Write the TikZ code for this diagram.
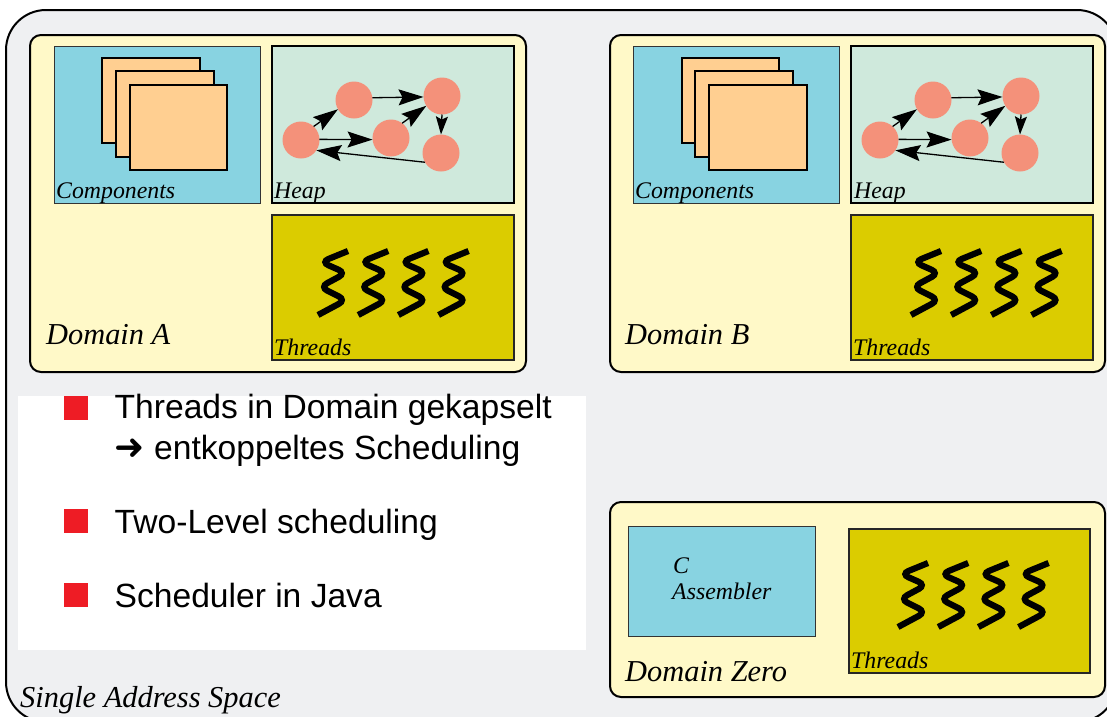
\documentclass[tikz,border=0pt]{standalone}
\usepackage{fontspec}
\setmainfont{Liberation Serif}
\newfontfamily\listfont{Liberation Sans}
\newfontfamily\arrowfont{DejaVu Sans}
\usetikzlibrary{arrows.meta}
\definecolor{spacegray}{HTML}{EFF0F2}
\definecolor{domainyellow}{HTML}{FFF9C8}
\definecolor{compblue}{HTML}{88D3E1}
\definecolor{heapgreen}{HTML}{CFE9DC}
\definecolor{threadgold}{HTML}{DBCC00}
\definecolor{pageorange}{HTML}{FFCF91}
\definecolor{objsalmon}{HTML}{F4917A}
\definecolor{bulletred}{HTML}{EE1C25}
\newcommand{\threadline}[2]{\draw[thread] (#1,#2) -- ++(28,-15) -- ++(-26,-13) -- ++(26,-14) -- ++(-25,-11) -- ++(27,-11);}
\begin{document}
\begin{tikzpicture}[x=1pt, y=-1pt,
  wh/.style 2 args = {minimum width=#1pt, minimum height=#2pt, anchor=north west, inner sep=0pt, outer sep=0pt},
  spacebox/.style = {draw, line width=2pt, fill=spacegray, rounded corners=40pt},
  dombox/.style = {draw, line width=2pt, fill=domainyellow, rounded corners=11pt},
  comp/.style = {draw=black!80, line width=1pt, fill=compblue},
  heap/.style = {draw, line width=2.2pt, fill=heapgreen},
  threads/.style = {draw=black!85, line width=1.4pt, fill=threadgold},
  page/.style = {draw, line width=1.9pt, fill=pageorange},
  obj/.style = {circle, fill=objsalmon, minimum size=37pt, inner sep=0pt, outer sep=0pt},
  ref/.style = {-{Stealth[length=25pt, width=16pt, inset=4pt]}, line width=1.3pt},
  refshort/.style = {-{Stealth[length=18pt, width=12pt, inset=3pt]}, line width=1.3pt},
  thread/.style = {line width=6.2pt, rounded corners=8pt},
  small/.style = {anchor=base west, inner sep=0pt, font=\itshape\fontsize{23.8}{28}\selectfont},
  big/.style = {anchor=base west, inner sep=0pt, font=\itshape\fontsize{30.4}{36}\selectfont},
  item/.style = {anchor=base west, inner sep=0pt, font=\listfont\fontsize{33.6}{40}\selectfont},
  bullet/.style = {wh={24}{23.5}, fill=bulletred}]
\useasboundingbox (0,0) rectangle (1107,716);
\clip (0,0) rectangle (1107,716);
\node[spacebox, wh={1111}{712}] (as) at (6,10) {};
\node[big] (aslabel) at (20,707) {Single Address Space};

% domain A
\node[dombox, wh={496}{337}] (doma) at (30,35) {};
\node[big] (domalabel) at (46,344) {Domain A};
\node[comp, wh={206}{157}] (compa) at (54,46) {};
\node[page, wh={98}{85}] (pa1) at (102,58) {};
\node[page, wh={98}{86}] (pa2) at (116,71) {};
\node[page, wh={97}{85}] (pa3) at (130,85) {};
\node[small] (compalabel) at (56,198) {Components};
\node[heap, wh={242}{157}] (heapa) at (272,46) {};
\node[small] (heapalabel) at (274,198) {Heap};
\node[obj] (a1) at (301,140) {};
\node[obj] (a2) at (354,100) {};
\node[obj] (a3) at (391,138) {};
\node[obj] (a4) at (442,96) {};
\node[obj] (a5) at (441,153) {};
\draw[ref] (a1.47) -- (a2.210);
\draw[ref] (a2.7) -- (a4.183);
\draw[ref] (a1.2) -- (a3.185);
\draw[ref] (a3.53) -- (a4.212);
\draw[refshort] (a4.270) -- (a5.90);
\draw[ref] (a5.210) -- (a1.326);
\node[threads, wh={242}{145}] (tha) at (272,215) {};
\node[small] (thalabel) at (274,355) {Threads};
\foreach \tx in {318,358.2,398.4,438.6} {\threadline{\tx}{315}}

% domain B
\node[dombox, wh={495}{337}] (domb) at (610,35) {};
\node[big] (domblabel) at (625,344) {Domain B};
\node[comp, wh={206}{157}] (compb) at (633.5,46) {};
\node[page, wh={97}{85}] (pb1) at (682,58) {};
\node[page, wh={98}{86}] (pb2) at (695,71) {};
\node[page, wh={98}{85}] (pb3) at (709,85) {};
\node[small] (compblabel) at (635,198) {Components};
\node[heap, wh={242}{157}] (heapb) at (851,46) {};
\node[small] (heapblabel) at (854,198) {Heap};
\node[obj] (b1) at (880,140) {};
\node[obj] (b2) at (933,100) {};
\node[obj] (b3) at (970,138) {};
\node[obj] (b4) at (1021,96) {};
\node[obj] (b5) at (1020,153) {};
\draw[ref] (b1.47) -- (b2.210);
\draw[ref] (b2.7) -- (b4.183);
\draw[ref] (b1.2) -- (b3.185);
\draw[ref] (b3.53) -- (b4.212);
\draw[refshort] (b4.270) -- (b5.90);
\draw[ref] (b5.210) -- (b1.326);
\node[threads, wh={242}{145}] (thb) at (851,215) {};
\node[small] (thblabel) at (853,355) {Threads};
\foreach \tx in {911,951.2,991.4,1031.6} {\threadline{\tx}{315}}

% domain zero
\node[dombox, wh={495}{195}] (domz) at (610,502) {};
\node[big] (domzlabel) at (625,681) {Domain Zero};
\node[comp, wh={187}{110}] (compz) at (628,526) {};
\node[small] (clabel) at (673,573) {C};
\node[small] (asmlabel) at (672,599) {Assembler};
\node[threads, wh={241}{144}] (thz) at (849,529) {};
\node[small] (thzlabel) at (851,668) {Threads};
\foreach \tx in {898,938.2,978.4,1018.6} {\threadline{\tx}{627}}

% list
\node[fill=white, wh={568}{254}] (listbg) at (18,396) {};
\node[bullet] (b1st) at (64,396) {};
\node[bullet] (b2nd) at (64,509) {};
\node[bullet] (b3rd) at (64,583) {};
\node[item] (t1) at (114.5,418) {Threads in Domain gekapselt};
\node[item] (t2) at (114.5,459) {{\arrowfont\fontsize{36}{40}\selectfont ➜} entkoppeltes Scheduling};
\node[item] (t3) at (114.5,533) {Two-Level scheduling};
\node[item] (t4) at (114.5,607) {Scheduler in Java};
\end{tikzpicture}
\end{document}
